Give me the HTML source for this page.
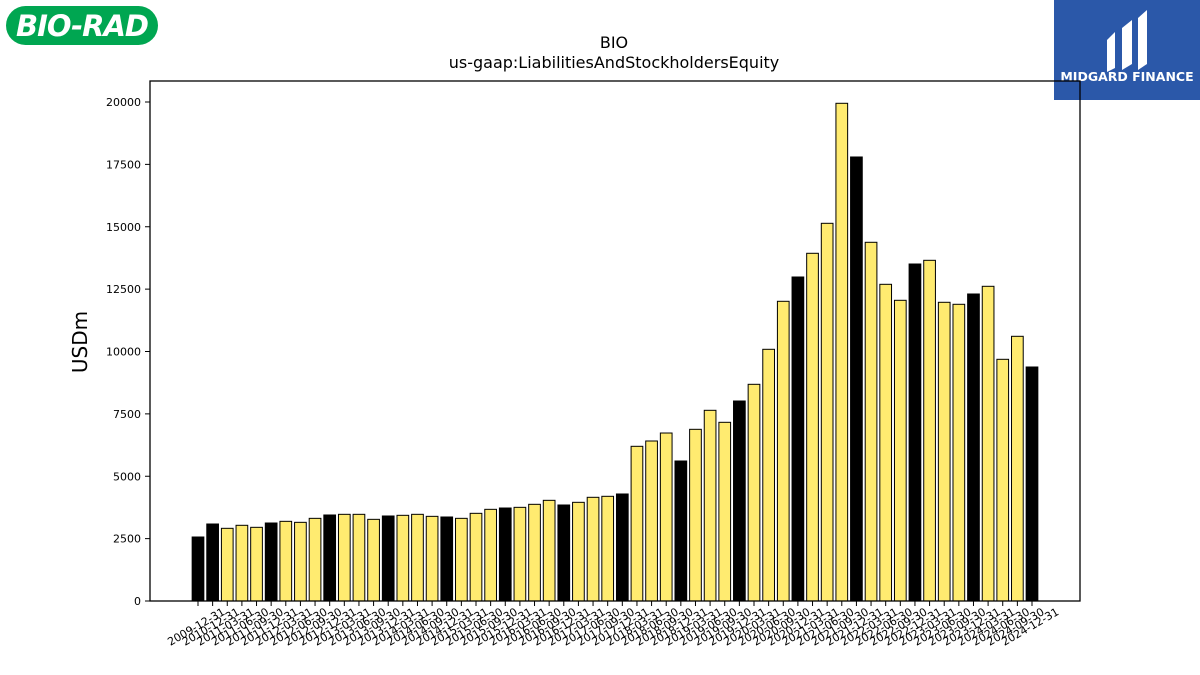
<!DOCTYPE html>
<html><head><meta charset="utf-8">
<style>
html,body{margin:0;padding:0;background:#fff;width:1200px;height:675px;overflow:hidden}
svg{display:block}
text{font-family:"DejaVu Sans","Liberation Sans",sans-serif}
</style></head>
<body>
<svg id="chart" width="1200" height="675" viewBox="0 0 1200 675" xmlns="http://www.w3.org/2000/svg">
  <g>
    <rect x="6" y="6" width="152" height="39" rx="19.5" fill="#00a651"/>
    <text x="82" y="36" text-anchor="middle" font-family="Liberation Sans,sans-serif" font-weight="bold" font-style="italic" font-size="29" fill="#fff" letter-spacing="-1">BIO-RAD</text>
  </g>
  <g>
    <rect x="1054" y="0" width="146" height="100" fill="#2b58a9"/>
    <path d="M1107,40 L1115,32 L1115,68 L1107,72 Z" fill="#fff"/>
    <path d="M1122,28 L1132,20 L1132,64 L1122,70 Z" fill="#fff"/>
    <path d="M1138,18 L1147,10 L1147,64 L1138,70 Z" fill="#fff"/>
    <text x="1127" y="81" text-anchor="middle" font-family="Liberation Sans,sans-serif" font-weight="bold" font-size="12.5" fill="#fff">MIDGARD FINANCE</text>
  </g>
  <text x="614" y="48" text-anchor="middle" font-size="16">BIO</text>
  <text x="614" y="68" text-anchor="middle" font-size="16">us-gaap:LiabilitiesAndStockholdersEquity</text>
  <text transform="translate(87,342) rotate(-90)" text-anchor="middle" font-size="20">USDm</text>
  <g id="bars"></g>
  <g id="yaxis"></g>
  <g id="xaxis"></g>
  <rect x="150" y="81" width="930" height="520" fill="none" stroke="#000" stroke-width="1.3"/>
</svg>
<script>
const categories = ["2009-12-31","2010-12-31","2011-03-31","2011-06-30","2011-09-30","2011-12-31","2012-03-31","2012-06-30","2012-09-30","2012-12-31","2013-03-31","2013-06-30","2013-09-30","2013-12-31","2014-03-31","2014-06-30","2014-09-30","2014-12-31","2015-03-31","2015-06-30","2015-09-30","2015-12-31","2016-03-31","2016-06-30","2016-09-30","2016-12-31","2017-03-31","2017-06-30","2017-09-30","2017-12-31","2018-03-31","2018-06-30","2018-09-30","2018-12-31","2019-03-31","2019-06-30","2019-09-30","2019-12-31","2020-03-31","2020-06-30","2020-09-30","2020-12-31","2021-03-31","2021-06-30","2021-09-30","2021-12-31","2022-03-31","2022-06-30","2022-09-30","2022-12-31","2023-03-31","2023-06-30","2023-09-30","2023-12-31","2024-03-31","2024-06-30","2024-09-30","2024-12-31"];
const values = [2565,3086,2913,3034,2953,3126,3193,3153,3313,3447,3474,3474,3273,3407,3434,3474,3393,3367,3313,3514,3674,3727,3754,3875,4035,3848,3955,4156,4196,4289,6200,6413,6733,5611,6881,7643,7162,8016,8685,10088,12012,12986,13936,15138,19948,17796,14377,12693,12052,13507,13655,11972,11892,12305,12613,9687,10609,9379];
const yTicks = [0,2500,5000,7500,10000,12500,15000,17500,20000];
const NS="http://www.w3.org/2000/svg";
const x0=198, x1=1032, yBase=601, yTop=102;
function xScale(i){return x0+(x1-x0)*i/(categories.length-1);}
function yScale(v){return yBase-(yBase-yTop)*v/20000;}
const bw=(x1-x0)/(categories.length-1)*0.8;
const bars=document.getElementById('bars');
values.forEach((v,i)=>{
  const r=document.createElementNS(NS,'rect');
  const dark=categories[i].endsWith('12-31');
  r.setAttribute('x',xScale(i)-bw/2);
  r.setAttribute('y',yScale(v));
  r.setAttribute('width',bw);
  r.setAttribute('height',yBase-yScale(v));
  r.setAttribute('fill',dark?'#000':'#ffeb70');
  r.setAttribute('stroke','#000');
  r.setAttribute('stroke-width','1');
  
  
  bars.appendChild(r);
});
const ya=document.getElementById('yaxis');
yTicks.forEach(t=>{
  const y=yScale(t);
  const l=document.createElementNS(NS,'line');
  l.setAttribute('x1',145);l.setAttribute('x2',150);l.setAttribute('y1',y);l.setAttribute('y2',y);
  l.setAttribute('stroke','#000');
  
  
  ya.appendChild(l);
  const tx=document.createElementNS(NS,'text');
  tx.setAttribute('x',141);tx.setAttribute('y',y+4);tx.setAttribute('text-anchor','end');tx.setAttribute('font-size','11');
  tx.textContent=t;
  
  
  ya.appendChild(tx);
});
const xa=document.getElementById('xaxis');
categories.forEach((c,i)=>{
  const x=xScale(i);
  const l=document.createElementNS(NS,'line');
  l.setAttribute('x1',x);l.setAttribute('x2',x);l.setAttribute('y1',601);l.setAttribute('y2',606);
  l.setAttribute('stroke','#000');
  
  
  xa.appendChild(l);
  const tx=document.createElementNS(NS,'text');
  tx.setAttribute('transform','translate('+x+',630) rotate(-30)');
  tx.setAttribute('text-anchor','middle');tx.setAttribute('font-size','11');
  tx.textContent=c;
  
  
  xa.appendChild(tx);
});
</script>
</body></html>
